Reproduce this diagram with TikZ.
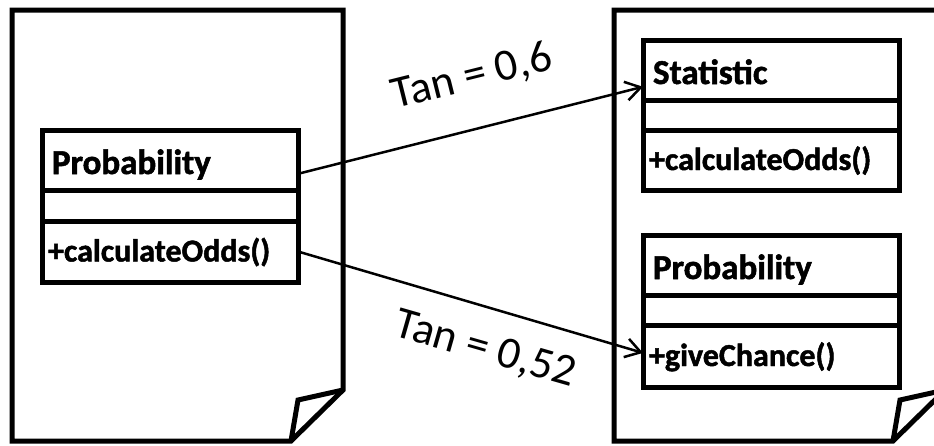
\documentclass[tikz,border=0pt]{standalone}
\usepackage{fontspec}
\setmainfont{Carlito}[BoldFeatures={FakeBold=1.5}]
\usetikzlibrary{arrows.meta,calc}

\begin{document}
\begin{tikzpicture}[x=1pt,y=-1pt,
  page/.style={line width=5pt, line join=miter},
  compart/.style={draw, rectangle, line width=5pt, outer sep=0pt,
    anchor=north west, minimum height=#1, inner ysep=0pt,
    align=left, font=\bfseries},
  namebox/.style={compart=#1, inner xsep=10pt, text width=236pt,
    text height=28pt, text depth=0pt, font=\bfseries\fontsize{35}{40}\selectfont},
  methbox/.style={compart=#1, inner xsep=6pt, text width=244pt,
    text height=20pt, text depth=0pt, font=\bfseries\fontsize{32}{38}\selectfont},
  emptybox/.style={compart=#1, inner xsep=0pt, text width=256pt},
  depend/.style={line width=2.5pt, -{Straight Barb[length=15pt,width=19pt,line width=2.5pt]}},
  tanlabel/.style={font=\fontsize{45}{50}\selectfont, inner sep=0pt}
]
\useasboundingbox (0,0) rectangle (934,445);
\clip (0,0) rectangle (934,445);

% left source page with folded corner
\draw[page] (12,10) -- (343,10) -- (343,390) -- (291,441) -- (12,441) -- cycle;
\draw[page] (343,390) -- (298,400) -- (291,441);

% right target page (continues past the right edge)
\draw[page] (614,10) -- (945,10) -- (945,390) -- (893,441) -- (614,441) -- cycle;
\draw[page] (945,390) -- (900,400) -- (893,441);

% class Probability on the left page
\node[namebox=60pt] (lpN) at (42,130) {Probability};
\node[emptybox=31pt] (lpE) at (lpN.south west) {};
\node[methbox=61pt] (lpM) at (lpE.south west) {+calculateOdds()};

% class Statistic on the right page
\node[namebox=60pt] (rsN) at (643,40) {Statistic};
\node[emptybox=30pt] (rsE) at (rsN.south west) {};
\node[methbox=60pt] (rsM) at (rsE.south west) {+calculateOdds()};

% class Probability on the right page
\node[namebox=60pt] (rpN) at (643,235) {Probability};
\node[emptybox=30pt] (rpE) at (rpN.south west) {};
\node[methbox=62pt] (rpM) at (rpE.south west) {+giveChance()};

% tracing links
\draw[depend] ($(lpN.south east)!0.27!(lpN.north east)$) -- ($(rsN.south west)!0.22!(rsN.north west)$);
\draw[depend] (lpM.east) -- ($(rpM.south west)!0.55!(rpM.north west)$);

% similarity values
\node[tanlabel, rotate=14] (tanA) at (472,77) {Tan = 0,6};
\node[tanlabel, rotate=-16] (tanB) at (485,350) {Tan = 0,52};
\end{tikzpicture}
\end{document}
